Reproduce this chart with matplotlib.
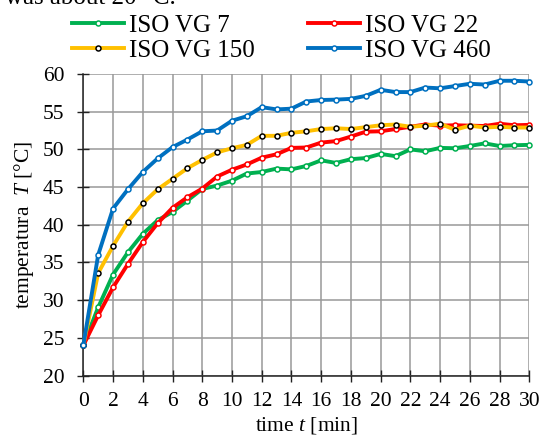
import matplotlib
matplotlib.use("Agg")
import matplotlib.pyplot as plt
import numpy as np

plt.rcParams['font.family'] = ['Liberation Serif', 'DejaVu Serif']
plt.rcParams['mathtext.fontset'] = 'custom'
plt.rcParams['mathtext.it'] = 'Liberation Serif:italic'
plt.rcParams['mathtext.rm'] = 'Liberation Serif'

time_min = list(range(0, 31))
vg7 = [24.0, 29.05, 33.4, 36.35, 38.8, 40.6, 41.7, 43.2, 44.75, 45.2, 45.85, 46.8, 47.0, 47.45, 47.35,
       47.8, 48.55, 48.2, 48.7, 48.85, 49.4, 49.1, 50.0, 49.75, 50.2, 50.15, 50.45, 50.8, 50.45, 50.55, 50.6]
vg22 = [24.0, 28.0, 31.7, 34.8, 37.7, 40.2, 42.25, 43.65, 44.8, 46.4, 47.3, 48.0, 48.9, 49.35, 50.2,
        50.25, 50.9, 51.1, 51.7, 52.35, 52.4, 52.7, 53.0, 53.3, 53.15, 53.2, 53.15, 53.1, 53.4, 53.2, 53.25]
vg150 = [24.0, 33.6, 37.2, 40.4, 42.85, 44.7, 46.1, 47.5, 48.6, 49.6, 50.15, 50.6, 51.8, 51.8, 52.2,
         52.4, 52.7, 52.8, 52.7, 52.95, 53.2, 53.3, 53.0, 53.15, 53.4, 52.6, 53.15, 52.9, 53.0, 52.9, 52.9]
vg460 = [24.0, 36.0, 42.15, 44.7, 47.0, 48.8, 50.3, 51.3, 52.4, 52.5, 53.8, 54.4, 55.6, 55.3, 55.4,
         56.35, 56.55, 56.6, 56.7, 57.1, 57.9, 57.6, 57.6, 58.2, 58.1, 58.4, 58.7, 58.6, 59.1, 59.1, 59.0]

series = [
    ("ISO VG 7", vg7, "#00B050", "#00B050"),
    ("ISO VG 22", vg22, "#FF0000", "#FF0000"),
    ("ISO VG 150", vg150, "#FFC000", "#000000"),
    ("ISO VG 460", vg460, "#0070C0", "#0070C0"),
]

fig = plt.figure(figsize=(5.42, 4.37), dpi=100)
ax = fig.add_axes([0.1537, 0.1405, 0.9766 - 0.1537, 0.8307 - 0.1405])

handles = {}
for name, vals, col, mec in series:
    h, = ax.plot(time_min, vals, color=col, lw=2.8, marker='o', ms=3.6,
                 mfc='white', mec=mec, mew=1.1, label=name, clip_on=False, zorder=3)
    handles[name] = h

ax.set_xlim(0, 30)
ax.set_ylim(20, 60)
ax.set_xticks(np.arange(0, 31, 2))
ax.set_yticks(np.arange(20, 61, 5))
ax.grid(True, color='#999999', lw=1.1)
ax.set_axisbelow(True)
for s in ['top', 'right']:
    ax.spines[s].set_visible(False)
for s in ['left', 'bottom']:
    ax.spines[s].set_color('#222222')
    ax.spines[s].set_linewidth(1.1)
ax.tick_params(direction='inout', length=9, width=1.0, colors='#222222',
               labelsize=15.5, labelcolor='black')
ax.tick_params(axis='x', pad=7)
ax.tick_params(axis='y', pad=9)

ax.set_xlabel("time $t$ [min]", fontsize=15.5, labelpad=3)
ax.set_ylabel("temperatura  $T$ [°C]", fontsize=15.5, labelpad=5)

# matplotlib fills legend column-wise: reorder so rows read (7, 22) / (150, 460)
order = ["ISO VG 7", "ISO VG 150", "ISO VG 22", "ISO VG 460"]
fig.legend(handles=[handles[k] for k in order], ncol=2, loc='upper left',
           bbox_to_anchor=(0.105, 1.0 + 0.002),
           frameon=False, fontsize=18, handlelength=2.1, handletextpad=0.2,
           columnspacing=2.1, labelspacing=0.1, borderpad=0.1)

fig.text(5 / 542, 1 - 3.5 / 437, "was about 20 °C.", fontsize=18, va='baseline', ha='left')

fig.savefig("out.png", dpi=100)
